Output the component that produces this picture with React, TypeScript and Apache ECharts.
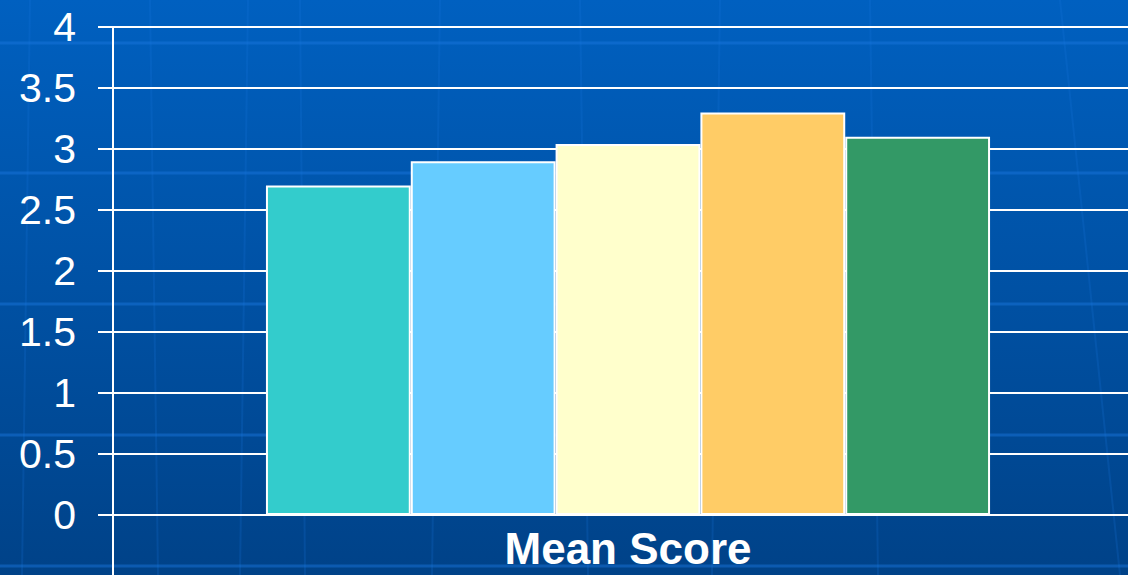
import React, { useEffect, useRef } from "react";
import * as echarts from "echarts";

const categories = ["Mean Score"];
const seriesNames = ["Group 1", "Group 2", "Group 3", "Group 4", "Group 5"];
const seriesValues = [[2.7], [2.9], [3.04], [3.3], [3.1]];
const seriesColors = ["#33CCCC", "#66CCFF", "#FFFFCC", "#FFCC66", "#339966"];
const yTicks = { min: 0, max: 4, interval: 0.5 };

export default function App() {
  const ref = useRef<HTMLDivElement>(null);
  useEffect(() => {
    if (!ref.current) return;
    document.body.style.overflow = "hidden";
    const chart = echarts.init(ref.current, undefined, { renderer: "svg" });
    const decoH = [43, 173, 304, 435, 566];
    const decoV = [
      [30, 0, 22, 575],
      [150, 0, 158, 575],
      [248, 0, 240, 575],
      [300, 0, 305, 575],
      [440, 0, 432, 575],
      [580, 0, 588, 575],
      [720, 0, 712, 575],
      [870, 0, 878, 575],
      [1060, 0, 1120, 575],
    ];
    const graphics: any[] = [];
    decoH.forEach((y) =>
      graphics.push({
        type: "line",
        z: -10,
        silent: true,
        shape: { x1: 0, y1: y, x2: 1143, y2: y },
        style: { stroke: "#1A78E0", lineWidth: 3, opacity: 0.45 },
      })
    );
    decoV.forEach(([x1, y1, x2, y2]) =>
      graphics.push({
        type: "line",
        z: -10,
        silent: true,
        shape: { x1, y1, x2, y2 },
        style: { stroke: "#1A78E0", lineWidth: 2, opacity: 0.2 },
      })
    );
    chart.setOption({
      animation: false,
      backgroundColor: {
        type: "linear",
        x: 0,
        y: 0,
        x2: 0,
        y2: 1,
        colorStops: [
          { offset: 0, color: "#0060C0" },
          { offset: 1, color: "#004288" },
        ],
      },
      graphic: graphics,
      grid: { left: 113, right: 0, top: 27, bottom: 60, containLabel: false },
      xAxis: {
        type: "category",
        data: categories,
        axisLine: { show: true, lineStyle: { color: "#FFFFFF", width: 2 } },
        axisTick: { show: true, length: 62, lineStyle: { color: "#FFFFFF", width: 2 } },
        axisLabel: {
          color: "#FFFFFF",
          fontFamily: "Liberation Sans, Arial, sans-serif",
          fontWeight: "bold",
          fontSize: 44,
          margin: 11,
        },
      },
      yAxis: {
        type: "value",
        min: yTicks.min,
        max: yTicks.max,
        interval: yTicks.interval,
        axisLine: { show: true, lineStyle: { color: "#FFFFFF", width: 2 } },
        axisTick: { show: true, length: 15, lineStyle: { color: "#FFFFFF", width: 2 } },
        splitLine: { show: true, lineStyle: { color: "#FFFFFF", width: 2 } },
        axisLabel: {
          color: "#FFFFFF",
          fontFamily: "Liberation Sans, Arial, sans-serif",
          fontSize: 41,
          margin: 37,
        },
      },
      series: seriesNames.map((name, i) => ({
        name,
        type: "bar",
        data: seriesValues[i],
        barGap: "0%",
        barCategoryGap: "29.7%",
        itemStyle: { color: seriesColors[i], borderColor: "#FFFFFF", borderWidth: 2 },
      })),
    });
    return () => chart.dispose();
  }, []);
  return (
    <div
      style={{
        position: "fixed",
        left: 0,
        top: 0,
        width: 1128,
        height: 575,
        overflow: "hidden",
      }}
    >
      <div ref={ref} style={{ width: 1143, height: 575 }} />
    </div>
  );
}
